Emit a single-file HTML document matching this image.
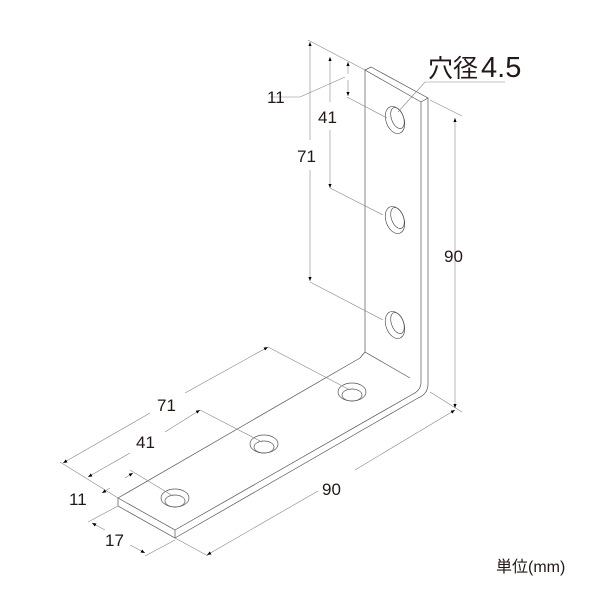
<!DOCTYPE html>
<html><head><meta charset="utf-8"><style>
html,body{margin:0;padding:0;background:#fff;width:600px;height:600px;overflow:hidden}
text{font-family:"Liberation Sans","Noto Sans CJK JP",sans-serif;fill:#231815}
</style></head><body>
<svg width="600" height="600" viewBox="0 0 600 600" xmlns="http://www.w3.org/2000/svg">
<defs>
<marker id="a" viewBox="0 0 10 10" refX="10" refY="5" markerWidth="7" markerHeight="7" orient="auto-start-reverse"><path d="M0,1 L10,5 L0,9 z" fill="#000"/></marker>
</defs>
<g fill="none" stroke="#555" stroke-width="0.7">
<path d="M365,70 L371,67 L428,98 L421,102 Z"/>
<path d="M365,70 L365,352 L410,378"/>
<path d="M421,102 L421,382"/>
<path d="M428,98 L428,384 Q428,394 418,398"/>
<path d="M421,382 Q421,390 413,394"/>
<path d="M118,498 L360,358"/>
<path d="M118,498 L175,530 L175,538 L118,506 Z"/>
<path d="M175,530 L413,394"/>
<path d="M175,538 L418,398"/>
<path d="M365,352 L360,358"/>
<g transform="rotate(-20 395 120)"><ellipse cx="395" cy="120" rx="9" ry="14"/><ellipse cx="398" cy="119" rx="6" ry="11"/></g>
<g transform="rotate(-20 395 220)"><ellipse cx="395" cy="220" rx="9" ry="14"/><ellipse cx="398" cy="219" rx="6" ry="11"/></g>
<g transform="rotate(-20 395 325)"><ellipse cx="395" cy="325" rx="9" ry="14"/><ellipse cx="398" cy="324" rx="6" ry="11"/></g>
<ellipse cx="175" cy="498" rx="14" ry="9"/><ellipse cx="175" cy="501" rx="10" ry="6"/>
<ellipse cx="264" cy="444" rx="14" ry="9"/><ellipse cx="264" cy="447" rx="10" ry="6"/>
<ellipse cx="352" cy="392" rx="14" ry="9"/><ellipse cx="352" cy="395" rx="10" ry="6"/>
</g>
<g fill="none" stroke="#888" stroke-width="0.6">
<path d="M308,40 L365,70"/>
<path d="M330,188 L383,215"/>
<path d="M310,282 L383,320"/>
<path d="M347,97 L387,118"/>
<path d="M430,100 L462,116"/>
<path d="M430,392 L462,412"/>
<path d="M300,97 L270,97"/>
<path d="M300,97 L345,77"/>
<path d="M398,112 L425,82 L505,82"/>
<path d="M60,462 L118,498"/>
<path d="M268,347 L350,390"/>
<path d="M200,410 L262,442"/>
<path d="M130,470 L173,496"/>
<path d="M118,506 L88,522"/>
<path d="M175,540 L145,556"/>
<path d="M175,538 L208,556"/>
</g>
<g fill="none" stroke="#888" stroke-width="0.6">
<path d="M455,118 L455,408" marker-start="url(#a)" marker-end="url(#a)"/>
<path d="M310,42 L310,140 M310,170 L310,280" marker-start="url(#a)"/>
<path d="M310,280 L310,281" marker-end="url(#a)"/>
<path d="M330,57 L330,102" marker-start="url(#a)"/>
<path d="M330,130 L330,188" marker-end="url(#a)"/>
<path d="M348,62 L348,74" marker-start="url(#a)"/>
<path d="M348,80 L348,96" marker-end="url(#a)"/>
<path d="M63,463 L150,413" marker-start="url(#a)"/>
<path d="M185,393 L268,347" marker-end="url(#a)"/>
<path d="M88,477 L130,453" marker-start="url(#a)"/>
<path d="M165,432 L200,410" marker-end="url(#a)"/>
<path d="M110,488 L102,493" marker-end="url(#a)"/>
<path d="M125,478 L133,473" marker-end="url(#a)"/>
<path d="M92,523 L105,530" marker-start="url(#a)"/>
<path d="M130,545 L145,553" marker-end="url(#a)"/>
<path d="M207,555 L318,491" marker-start="url(#a)"/>
<path d="M355,470 L455,410" marker-end="url(#a)"/>
</g>
<g font-size="17">
<text x="267" y="103">11</text>
<text x="318" y="123">41</text>
<text x="297" y="162">71</text>
<text x="444" y="262">90</text>
<text x="157" y="411">71</text>
<text x="136" y="448">41</text>
<text x="69" y="505">11</text>
<text x="105" y="546">17</text>
<text x="322" y="495">90</text>
<text x="496" y="572" font-size="16">単位(mm)</text>
</g>
<text x="428" y="77" font-size="25">穴径<tspan font-size="29" dx="3">4.5</tspan></text>
</svg>
</body></html>
